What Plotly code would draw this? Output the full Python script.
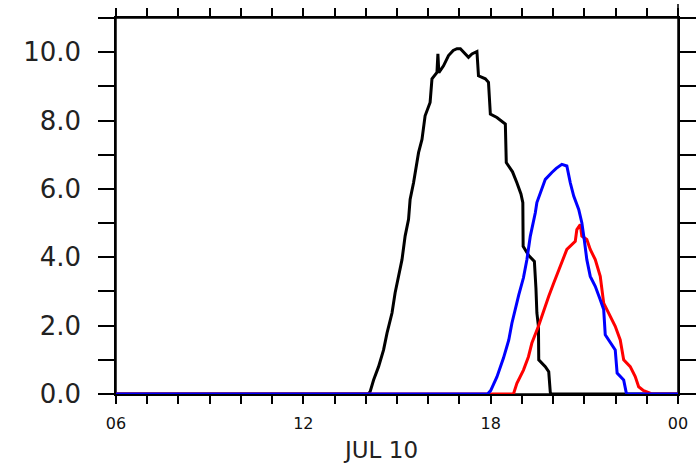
import plotly.graph_objects as go

# ---- data (hours of JUL 10; 24 == 00 next day) ----
black_t = [6.0, 14.08, 14.14, 14.25, 14.41, 14.57, 14.68, 14.84, 14.94, 15.05, 15.16, 15.26,
           15.37, 15.42, 15.53, 15.69, 15.8, 15.9, 16.06, 16.12, 16.28, 16.31, 16.34, 16.49,
           16.65, 16.8, 16.92, 17.03, 17.13, 17.29, 17.4, 17.56, 17.61, 17.83, 17.93, 17.99,
           18.2, 18.47, 18.5, 18.7, 18.84, 18.97, 19.03, 19.04, 19.22, 19.4, 19.45, 19.48,
           19.53, 19.54, 19.75, 19.86, 19.91, 19.93, 24.0]
black_v = [0.0, 0.0, 0.07, 0.41, 0.8, 1.29, 1.78, 2.37, 2.96, 3.44, 3.93, 4.62,
           5.11, 5.69, 6.18, 7.06, 7.45, 8.14, 8.53, 9.22, 9.41, 9.95, 9.4, 9.6,
           9.9, 10.05, 10.1, 10.1, 10.0, 9.85, 9.95, 10.02, 9.31, 9.22, 9.12, 8.19,
           8.09, 7.9, 6.77, 6.5, 6.18, 5.85, 5.6, 4.32, 4.05, 3.88, 3.1, 2.37,
           1.98, 1.0, 0.8, 0.65, 0.05, 0.0, 0.0]

red_t = [6.0, 18.73, 18.84, 19.05, 19.21, 19.32, 19.53, 19.7, 19.86, 20.02, 20.23, 20.44,
         20.71, 20.76, 20.87, 20.92, 21.08, 21.19, 21.35, 21.51, 21.62, 21.83, 21.99, 22.15,
         22.26, 22.47, 22.63, 22.74, 22.9, 23.1, 23.15, 24.0]
red_v = [0.0, 0.0, 0.31, 0.7, 1.09, 1.49, 1.98, 2.47, 2.86, 3.25, 3.74, 4.23,
         4.47, 4.81, 4.96, 4.62, 4.52, 4.23, 3.93, 3.44, 2.66, 2.27, 1.98, 1.58,
         1.0, 0.8, 0.51, 0.21, 0.1, 0.03, 0.0, 0.0]

blue_t = [6.0, 17.9, 18.0, 18.1, 18.2, 18.41, 18.58, 18.68, 18.79, 18.9, 19.05, 19.16,
          19.27, 19.35, 19.43, 19.48, 19.6, 19.7, 19.75, 19.96, 20.1, 20.28, 20.44, 20.55,
          20.66, 20.82, 20.92, 21.0, 21.08, 21.19, 21.35, 21.51, 21.62, 21.67, 21.83, 21.99,
          22.05, 22.26, 22.34, 22.36, 24.0]
blue_v = [0.0, 0.0, 0.1, 0.3, 0.5, 1.05, 1.58, 2.07, 2.5, 2.9, 3.4, 3.93,
          4.62, 4.95, 5.3, 5.6, 5.9, 6.09, 6.28, 6.48, 6.6, 6.72, 6.67, 6.18,
          5.79, 5.4, 5.01, 4.5, 3.93, 3.44, 3.15, 2.76, 2.47, 1.73, 1.49, 1.29,
          0.61, 0.41, 0.05, 0.0, 0.0]

x_tickvals = list(range(6, 25))
x_ticktext = ["06" if h == 6 else "12" if h == 12 else "18" if h == 18 else "00" if h == 24 else ""
              for h in x_tickvals]
y_tickvals = list(range(0, 12))
y_ticktext = [f"{v:.1f}" if v % 2 == 0 else "" for v in y_tickvals]
x_title = "JUL 10"

fig = go.Figure()
for t, v, c in [(black_t, black_v, "black"), (red_t, red_v, "#ff0000"), (blue_t, blue_v, "#0000ff")]:
    fig.add_trace(go.Scatter(x=t, y=v, mode="lines", line=dict(color=c, width=3),
                             showlegend=False, hoverinfo="skip"))

W, H = 698, 463
ml, mr, mt, mb = 116, 20, 18, 69
pw, ph = W - ml - mr, H - mt - mb

axis_common = dict(showline=True, linecolor="black", linewidth=1.5, mirror="allticks",
                   ticks="outside", tickcolor="black", tickwidth=1.5, automargin=False,
                   showgrid=False, zeroline=False, layer="below traces")

fig.update_layout(
    width=W, height=H,
    margin=dict(l=ml, r=mr, t=mt, b=mb, pad=0, autoexpand=False),
    plot_bgcolor="white", paper_bgcolor="white",
    xaxis=dict(range=[6, 24], tickvals=x_tickvals, ticktext=x_ticktext, ticklen=8,
               tickfont=dict(family="DejaVu Sans", size=16, color="#111"),
               ticklabelstandoff=6, **axis_common),
    yaxis=dict(range=[0, 11], tickvals=y_tickvals, ticktext=y_ticktext, ticklen=16,
               tickfont=dict(family="DejaVu Sans", size=26, color="#222"),
               ticklabelstandoff=12, **axis_common),
)

ex_h = 16 / pw
ex_v = 8 / ph
shapes = [
    dict(type="line", xref="paper", yref="paper", x0=-ex_h, x1=1 + 15 / pw, y0=1, y1=1),
    dict(type="line", xref="paper", yref="paper", x0=-ex_h, x1=1 + 15 / pw, y0=0, y1=0),
    dict(type="line", xref="paper", yref="paper", x0=0, x1=0, y0=-ex_v, y1=1 + ex_v),
    dict(type="line", xref="paper", yref="paper", x0=1, x1=1, y0=-ex_v, y1=1 + 14 / ph),
]
for s in shapes:
    s["line"] = dict(color="black", width=1.5)
    s["layer"] = "below"
fig.update_layout(shapes=shapes)

fig.add_annotation(text=x_title, xref="paper", yref="paper",
                   x=(380.5 - ml) / pw, y=-(450 - (H - mb)) / ph,
                   xanchor="center", yanchor="middle", showarrow=False,
                   font=dict(family="DejaVu Sans", size=23, color="#222"))

fig.write_html("out.html")
